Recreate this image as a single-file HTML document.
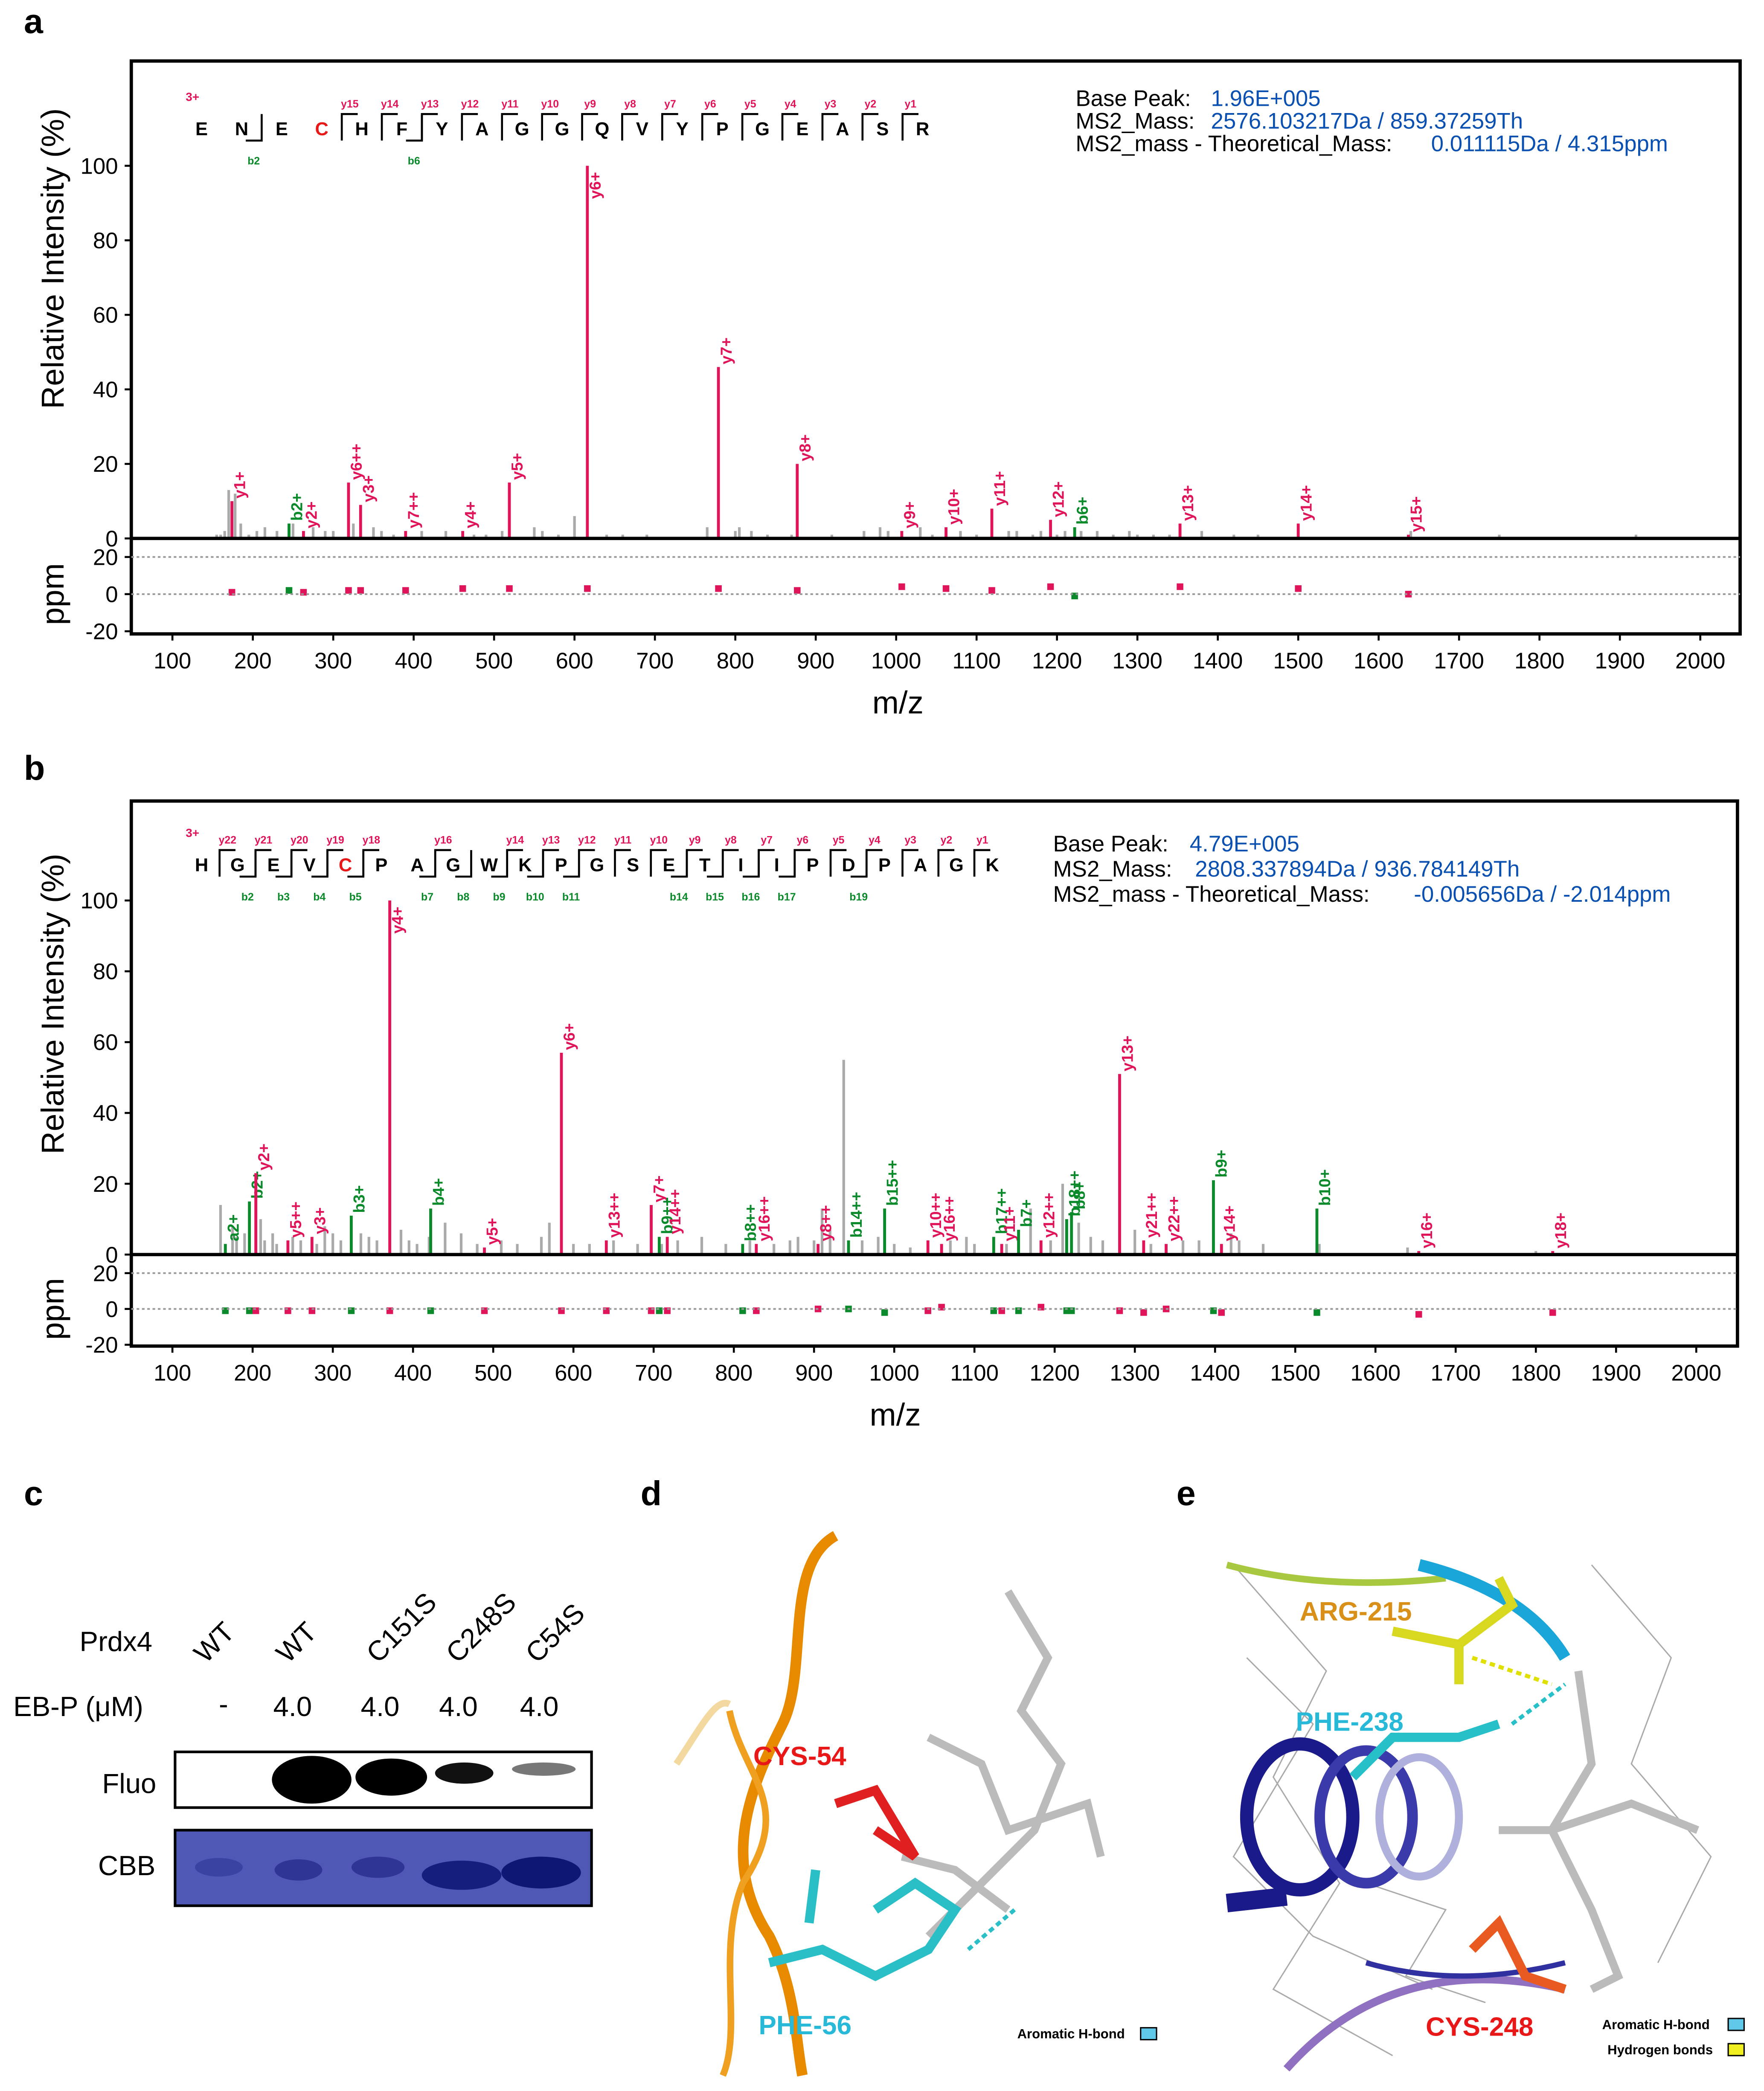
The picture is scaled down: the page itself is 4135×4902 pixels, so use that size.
<!DOCTYPE html>
<html><head><meta charset="utf-8"><style>
html,body{margin:0;padding:0;background:#fff}
svg{display:block}
text{font-family:"Liberation Sans",Arial,sans-serif}
</style></head><body>
<svg id="fig" width="4135" height="4902" viewBox="0 0 1330 1576.7" preserveAspectRatio="none" xmlns="http://www.w3.org/2000/svg">
<rect width="1330" height="1577" fill="#fff"/>
<g id="pa"></g>
<g id="pb"></g>
<g id="pc">
<text x="18" y="1135" font-size="26" font-weight="bold">c</text>
<text x="60" y="1245" font-size="21">Prdx4</text>
<text x="155" y="1255" font-size="21" transform="rotate(-45 155 1255)">WT</text>
<text x="217" y="1255" font-size="21" transform="rotate(-45 217 1255)">WT</text>
<text x="285" y="1255" font-size="21" transform="rotate(-45 285 1255)">C151S</text>
<text x="345" y="1255" font-size="21" transform="rotate(-45 345 1255)">C248S</text>
<text x="405" y="1255" font-size="21" transform="rotate(-45 405 1255)">C54S</text>
<text x="10" y="1294" font-size="21">EB-P (μM)</text>
<text x="165" y="1292" font-size="21">-</text>
<text x="206" y="1294" font-size="21">4.0</text>
<text x="272" y="1294" font-size="21">4.0</text>
<text x="331" y="1294" font-size="21">4.0</text>
<text x="392" y="1294" font-size="21">4.0</text>
<text x="77" y="1352" font-size="21">Fluo</text>
<text x="74" y="1414" font-size="21">CBB</text>
<rect x="132" y="1321" width="314" height="42" fill="#fff" stroke="#000" stroke-width="2"/>
<ellipse cx="235" cy="1342" rx="30" ry="18" fill="#000"/>
<ellipse cx="295" cy="1340" rx="27" ry="14" fill="#000"/>
<ellipse cx="350" cy="1337" rx="22" ry="8" fill="#111"/>
<ellipse cx="410" cy="1334" rx="24" ry="5" fill="#777"/>
<rect x="132" y="1380" width="314" height="57" fill="#5058b5" stroke="#000" stroke-width="2"/>
<ellipse cx="165" cy="1408" rx="18" ry="7" fill="#3a42a2"/>
<ellipse cx="225" cy="1410" rx="18" ry="8" fill="#2e3594"/>
<ellipse cx="285" cy="1408" rx="20" ry="8" fill="#2e3594"/>
<ellipse cx="348" cy="1414" rx="30" ry="11" fill="#141e7c"/>
<ellipse cx="408" cy="1412" rx="30" ry="12" fill="#0e1874"/>
</g>
<g id="pd">
<text x="483" y="1135" font-size="26" font-weight="bold">d</text>
<path d="M630 1158 C590 1180 610 1260 590 1300 C570 1340 540 1400 580 1460 C600 1500 600 1540 605 1565" stroke="#e88a00" stroke-width="8" fill="none"/>
<path d="M550 1290 C560 1340 600 1360 560 1420 C540 1470 560 1530 545 1565" stroke="#f0a020" stroke-width="5" fill="none"/>
<path d="M510 1330 C530 1300 540 1280 550 1285" stroke="#f3d8a0" stroke-width="5" fill="none"/>
<g stroke="#bbb" stroke-width="6" fill="none">
<path d="M760 1200 L790 1250 L770 1290 L800 1330 L780 1380 L740 1420 L700 1460"/>
<path d="M700 1310 L740 1330 L760 1380 L820 1360 L830 1400"/>
<path d="M680 1400 L720 1410 L760 1440"/>
</g>
<g stroke="#e02020" stroke-width="7" fill="none"><path d="M630 1360 L660 1350 L690 1400 L660 1380"/></g>
<g stroke="#2abfc6" stroke-width="7" fill="none"><path d="M580 1480 L620 1470 L660 1490 L700 1470 L720 1440 L690 1420 L660 1440"/><path d="M610 1450 L615 1410"/></g>
<path d="M730 1470 L765 1440" stroke="#2abfc6" stroke-width="3" stroke-dasharray="4 3"/>
<text x="568" y="1331" font-size="20" font-weight="bold" fill="#e81818" font-family="Liberation Serif">CYS-54</text>
<text x="572" y="1534" font-size="20" font-weight="bold" fill="#28b8d8" font-family="Liberation Serif">PHE-56</text>
<text x="767" y="1537" font-size="10" font-weight="bold" font-family="Liberation Serif">Aromatic H-bond</text>
<rect x="860" y="1529" width="12" height="9" fill="#60c8e8" stroke="#000" stroke-width="1"/>
</g>
<g id="pe">
<text x="887" y="1135" font-size="26" font-weight="bold">e</text>
<g stroke="#aaa" stroke-width="1" fill="none">
<path d="M930 1180 L1000 1260 L960 1340 L1010 1420 L960 1500 L1050 1550"/>
<path d="M940 1250 L990 1300 L930 1400 L990 1460 L1080 1500"/>
<path d="M1200 1180 L1260 1250 L1230 1330 L1290 1400 L1250 1480"/>
<path d="M1030 1420 L1090 1440 L1060 1490 L1120 1510"/>
</g>
<path d="M925 1180 Q1000 1200 1090 1190" stroke="#a8c840" stroke-width="5" fill="none"/>
<path d="M1070 1180 Q1150 1200 1180 1250" stroke="#1aa6d8" stroke-width="9" fill="none"/>
<ellipse cx="980" cy="1370" rx="40" ry="55" stroke="#1a1a8a" stroke-width="10" fill="none"/>
<ellipse cx="1030" cy="1370" rx="35" ry="50" stroke="#3a3aaa" stroke-width="8" fill="none"/>
<ellipse cx="1070" cy="1370" rx="30" ry="45" stroke="#b0b0dd" stroke-width="6" fill="none"/>
<path d="M925 1435 L970 1430" stroke="#1a1a8a" stroke-width="14"/>
<path d="M970 1560 Q1050 1470 1180 1500" stroke="#9070c0" stroke-width="6" fill="none"/>
<path d="M1030 1480 Q1100 1500 1180 1480" stroke="#3030a0" stroke-width="4" fill="none"/>
<g stroke="#bbb" stroke-width="6" fill="none"><path d="M1190 1260 L1200 1330 L1170 1380 L1200 1440 L1220 1490 L1200 1500"/><path d="M1130 1380 L1170 1380 L1230 1360 L1280 1380"/></g>
<g stroke="#d8d820" stroke-width="7" fill="none"><path d="M1050 1230 L1100 1240 L1140 1210 L1130 1190"/><path d="M1100 1240 L1100 1270"/></g>
<g stroke="#28c0c8" stroke-width="7" fill="none"><path d="M1020 1340 L1050 1310 L1100 1310 L1130 1300"/></g>
<g stroke="#e85a20" stroke-width="7" fill="none"><path d="M1110 1470 L1130 1450 L1150 1490 L1180 1500"/></g>
<path d="M1140 1300 L1180 1270" stroke="#28c0c8" stroke-width="3" stroke-dasharray="4 3"/>
<path d="M1110 1250 L1170 1270" stroke="#e0e000" stroke-width="3" stroke-dasharray="4 3"/>
<text x="980" y="1222" font-size="20" font-weight="bold" fill="#d89018" font-family="Liberation Serif">ARG-215</text>
<text x="977" y="1305" font-size="20" font-weight="bold" fill="#28b8d8" font-family="Liberation Serif">PHE-238</text>
<text x="1075" y="1535" font-size="20" font-weight="bold" fill="#e81818" font-family="Liberation Serif">CYS-248</text>
<text x="1208" y="1530" font-size="10" font-weight="bold" font-family="Liberation Serif">Aromatic H-bond</text>
<rect x="1303" y="1522" width="12" height="9" fill="#60c8e8" stroke="#000"/>
<text x="1212" y="1549" font-size="10" font-weight="bold" font-family="Liberation Serif">Hydrogen bonds</text>
<rect x="1303" y="1541" width="12" height="9" fill="#f0f020" stroke="#000"/>
</g>
</svg>
<script>
// ---- Panel a data ----
const aIonMz=[174,245,263,319,334,390,461,519,616,779,877,1007,1062,1119,1192,1222,1353,1500,1637];
const aIonInt=[10,4,2,15,9,2,2,15,100,46,20,2,3,8,5,3,4,4,1];
const aIonLabel=["y1+","b2+","y2+","y6++","y3+","y7++","y4+","y5+","y6+","y7+","y8+","y9+","y10+","y11+","y12+","b6+","y13+","y14+","y15+"];
const aIonType=["y","b","y","y","y","y","y","y","y","y","y","y","y","y","y","b","y","y","y"];
const aIonPpm=[1,2,1,2,2,2,3,3,3,3,2,4,3,2,4,-1,4,3,0];
const aGrayMz=[155,160,165,170,178,185,195,205,215,230,250,275,290,300,325,350,360,375,410,440,475,490,510,550,560,580,600,640,660,690,765,800,805,820,840,870,920,960,980,990,1030,1045,1080,1100,1140,1150,1170,1180,1200,1210,1230,1250,1270,1290,1300,1320,1340,1380,1420,1450,1640,1750,1920];
const aGrayInt=[1,1,2,13,12,4,1,2,3,2,4,3,2,2,4,3,2,1,2,2,1,1,2,3,2,1,6,1,1,1,3,2,3,2,1,1,1,2,3,2,3,1,2,1,2,2,1,2,1,2,2,2,1,2,1,1,1,2,1,1,2,1,1];
// ---- Panel b data ----
const bIonMz=[166,196,204,244,274,323,371,422,489,585,641,697,707,717,811,828,905,943,988,1042,1059,1124,1134,1155,1183,1215,1221,1281,1311,1339,1398,1408,1527,1654,1821];
const bIonInt=[3,15,23,4,5,11,100,13,2,57,4,14,5,5,3,3,3,4,13,4,3,5,3,7,4,10,12,51,4,3,21,3,13,1,1];
const bIonLabel=["a2+","b2+","y2+","y5++","y3+","b3+","y4+","b4+","y5+","y6+","y13++","y7+","b9++","y14++","b8++","y16++","y8++","b14++","b15++","y10++","y16++","b17++","y11+","b7+","y12++","b18++","b8+","y13+","y21++","y22++","b9+","y14+","b10+","y16+","y18+"];
const bIonType=["b","b","y","y","y","b","y","b","y","y","y","y","b","y","b","y","y","b","b","y","y","b","y","b","y","b","b","y","y","y","b","y","b","y","y"];
const bIonPpm=[-1,-1,-1,-1,-1,-1,-1,-1,-1,-1,-1,-1,-1,-1,-1,-1,0,0,-2,-1,1,-1,-1,-1,1,-1,-1,-1,-2,0,-1,-2,-2,-3,-2];
const bGrayMz=[160,175,180,190,210,215,225,230,250,260,280,290,300,310,335,345,355,385,395,405,420,440,460,480,510,530,560,570,600,620,650,680,710,730,760,790,820,850,870,880,900,910,920,937,960,980,1000,1020,1070,1090,1100,1140,1170,1195,1210,1230,1245,1260,1300,1320,1360,1380,1420,1430,1460,1530,1640,1800];
const bGrayInt=[14,8,5,6,10,4,6,3,5,4,3,8,6,4,6,5,4,7,4,3,5,9,6,3,4,3,5,9,3,3,4,3,3,4,5,3,4,3,4,5,4,13,7,55,4,5,3,2,4,5,3,3,13,4,20,9,5,4,7,3,4,4,6,4,3,3,2,1];
const xTicks=[100,200,300,400,500,600,700,800,900,1000,1100,1200,1300,1400,1500,1600,1700,1800,1900,2000];
const yTicks=[0,20,40,60,80,100];
const ppmTicks=[20,0,-20];

const NS="http://www.w3.org/2000/svg";
function mk(p,tag,at){const e=document.createElementNS(NS,tag);for(const k in at)e.setAttribute(k,at[k]);p.appendChild(e);return e;}
function txt(p,x,y,s,sz,at){const e=mk(p,'text',Object.assign({x:x,y:y,'font-size':sz},at||{}));e.textContent=s;return e;}

function drawPanel(g,cfg){
  const X=m=>cfg.x100+(m-100)*cfg.xs;
  const Y=v=>cfg.y0-v*cfg.ys;
  const P=v=>cfg.p0-v*cfg.ps;
  const RED="#e0145a",GRN="#0a8a2a";
  txt(g,18,cfg.letterY,cfg.letter,26,{'font-weight':'bold'});
  for(let i=0;i<cfg.gMz.length;i++){
    const l=mk(g,'line',{x1:X(cfg.gMz[i]),x2:X(cfg.gMz[i]),y1:Y(0),y2:Y(cfg.gInt[i]),stroke:'#aaa','stroke-width':2});
    
    
  }
  for(let i=0;i<cfg.mz.length;i++){
    const c=cfg.type[i]==='y'?RED:GRN;
    const x=X(cfg.mz[i]),yt=Y(cfg.int[i]);
    const l=mk(g,'line',{x1:x,x2:x,y1:Y(0),y2:yt,stroke:c,'stroke-width':2.2});
    
    
    const tx=x+10,ty=Math.max(yt-2,Y(100)+25);
    const t=txt(g,tx,ty,cfg.lab[i],12,{fill:c,'font-weight':'bold',transform:'rotate(-90 '+tx+' '+ty+')'});
    
    
    const r=mk(g,'rect',{x:x-2.5,y:P(cfg.ppm[i])-2.5,width:5,height:5,fill:c});
    
    
  }
  mk(g,'rect',{x:cfg.fx,y:cfg.fy,width:cfg.fw,height:cfg.fh,fill:'none',stroke:'#000','stroke-width':2.5});
  mk(g,'line',{x1:cfg.fx,x2:cfg.fx+cfg.fw,y1:Y(0),y2:Y(0),stroke:'#000','stroke-width':2.5});
  for(const v of [20,0]) mk(g,'line',{x1:cfg.fx,x2:cfg.fx+cfg.fw,y1:P(v),y2:P(v),stroke:'#999','stroke-width':1.3,'stroke-dasharray':'2 2'});
  for(const t of xTicks){const x=X(t);mk(g,'line',{x1:x,x2:x,y1:cfg.fy+cfg.fh,y2:cfg.fy+cfg.fh+5,stroke:'#000','stroke-width':1.5});
    const e=txt(g,x,cfg.fy+cfg.fh+26,String(t),17,{'text-anchor':'middle'});}
  for(const t of yTicks){const y=Y(t);mk(g,'line',{x1:cfg.fx-5,x2:cfg.fx,y1:y,y2:y,stroke:'#000','stroke-width':1.5});
    const e=txt(g,cfg.fx-10,y+6,String(t),17,{'text-anchor':'end'});}
  for(const t of ppmTicks){const y=P(t);mk(g,'line',{x1:cfg.fx-5,x2:cfg.fx,y1:y,y2:y,stroke:'#000','stroke-width':1.5});
    const e=txt(g,cfg.fx-10,y+6,String(t),17,{'text-anchor':'end'});}
  const yt=txt(g,0,0,'Relative Intensity (%)',24,{'text-anchor':'middle',transform:'translate(48 '+cfg.ylabY+') rotate(-90)'});
  
  const pt=txt(g,0,0,'ppm',24,{'text-anchor':'middle',transform:'translate(48 '+P(0)+') rotate(-90)'});
  
  const xt=txt(g,cfg.mzX,cfg.fy+cfg.fh+60,'m/z',24,{'text-anchor':'middle'});
  
  const seq=cfg.seq;
  txt(g,cfg.sx-12,cfg.sy-26,'3+',9,{fill:RED,'font-weight':'bold'});
  for(let i=0;i<seq.length;i++){
    const x=cfg.sx+i*cfg.sd;
    txt(g,x,cfg.sy,seq[i],14,{'text-anchor':'middle','font-weight':'bold',fill:seq[i]==='C'?'#e81818':'#000'});
  }
  for(const [k,lbl] of cfg.yb){const x=cfg.sx+(k-0.5)*cfg.sd;
    mk(g,'path',{d:`M${x} ${cfg.sy+4} V${cfg.sy-16} H${x+12}`,stroke:'#000',fill:'none','stroke-width':1.5});
    txt(g,x+6,cfg.sy-21,lbl,8,{'text-anchor':'middle',fill:RED,'font-weight':'bold'});}
  for(const [k,lbl] of cfg.bb){const x=cfg.sx+(k+0.5)*cfg.sd;
    mk(g,'path',{d:`M${x-12} ${cfg.sy+4} H${x} V${cfg.sy-16}`,stroke:'#000',fill:'none','stroke-width':1.5});
    txt(g,x-6,cfg.sy+22,lbl,8,{'text-anchor':'middle',fill:GRN,'font-weight':'bold'});}
  for(const r of cfg.info){const a=txt(g,cfg.ix,r[2],r[0],17);
    const b=txt(g,r[3],r[2],r[1],17,{fill:'#0a50b0'});}
}
const seqA="ENECHFYAGGQVYPGEASR".split("");
const ybA=[];for(let k=4;k<=18;k++)ybA.push([k,'y'+(19-k)]);
const seqB="HGEVCPAGWKPGSETIIPDPAGK".split("");
const ybB=[];for(const k of [1,2,3,4,5,7,9,10,11,12,13,14,15,16,17,18,19,20,21,22])ybB.push([k,'y'+(23-k)]);
drawPanel(document.getElementById('pa'),{letter:'a',letterY:25,x100:130,xs:0.6063,y0:406,ys:2.81,p0:448,ps:1.4,
 fx:99,fy:46,fw:1213,fh:432,ylabY:195,mzX:677,mz:aIonMz,int:aIonInt,lab:aIonLabel,type:aIonType,ppm:aIonPpm,gMz:aGrayMz,gInt:aGrayInt,
 seq:seqA,sx:152,sy:102,sd:30.2,yb:ybA,bb:[[1,'b2'],[5,'b6']],
 ix:811,info:[['Base Peak:','1.96E+005',80,913],['MS2_Mass:','2576.103217Da / 859.37259Th',97,913],['MS2_mass - Theoretical_Mass:','0.011115Da / 4.315ppm',114,1079]]});
drawPanel(document.getElementById('pb'),{letter:'b',letterY:588,x100:130,xs:0.6047,y0:946,ys:2.67,p0:987,ps:1.35,
 fx:99,fy:604,fw:1211,fh:411,ylabY:757,mzX:675,mz:bIonMz,int:bIonInt,lab:bIonLabel,type:bIonType,ppm:bIonPpm,gMz:bGrayMz,gInt:bGrayInt,
 seq:seqB,sx:152,sy:657,sd:27.1,yb:ybB,bb:[[1,'b2'],[2,'b3'],[3,'b4'],[4,'b5'],[6,'b7'],[7,'b8'],[8,'b9'],[9,'b10'],[10,'b11'],[13,'b14'],[14,'b15'],[15,'b16'],[16,'b17'],[18,'b19']],
 ix:794,info:[['Base Peak:','4.79E+005',642,897],['MS2_Mass:','2808.337894Da / 936.784149Th',661,901],['MS2_mass - Theoretical_Mass:','-0.005656Da / -2.014ppm',680,1066]]});
</script>
</body></html>
